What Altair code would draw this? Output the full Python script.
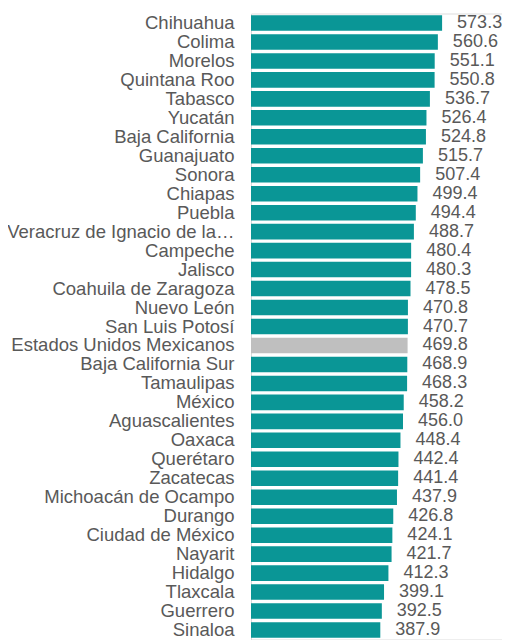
import altair as alt
import pandas as pd

estados = [
    "Chihuahua", "Colima", "Morelos", "Quintana Roo", "Tabasco", "Yucatán",
    "Baja California", "Guanajuato", "Sonora", "Chiapas", "Puebla",
    "Veracruz de Ignacio de la Llave", "Campeche", "Jalisco", "Coahuila de Zaragoza",
    "Nuevo León", "San Luis Potosí", "Estados Unidos Mexicanos", "Baja California Sur",
    "Tamaulipas", "México", "Aguascalientes", "Oaxaca", "Querétaro", "Zacatecas",
    "Michoacán de Ocampo", "Durango", "Ciudad de México", "Nayarit", "Hidalgo",
    "Tlaxcala", "Guerrero", "Sinaloa",
]
valores = [
    573.3, 560.6, 551.1, 550.8, 536.7, 526.4, 524.8, 515.7, 507.4, 499.4, 494.4,
    488.7, 480.4, 480.3, 478.5, 470.8, 470.7, 469.8, 468.9, 468.3, 458.2, 456.0,
    448.4, 442.4, 441.4, 437.9, 426.8, 424.1, 421.7, 412.3, 399.1, 392.5, 387.9,
]
nacional = "Estados Unidos Mexicanos"

df = pd.DataFrame({"estado": estados, "valor": valores})
df["etiqueta"] = df["valor"].map(lambda v: f"{v:.1f}")

FONT = "Liberation Sans"
GRAY = "#595959"

y_enc = alt.Y(
    "estado:N",
    sort=None,
    title=None,
    scale=alt.Scale(paddingInner=0.18, paddingOuter=0.09),
    axis=alt.Axis(
        ticks=False,
        tickSize=0,
        domain=True,
        domainColor="#D9D9D9",
        domainWidth=1,
        labelFont=FONT,
        labelFontSize=18.5,
        labelColor=GRAY,
        labelPadding=17,
        labelLimit=231,
        grid=False,
    ),
)
x_enc = alt.X(
    "valor:Q",
    scale=alt.Scale(domain=[0, 753], nice=False),
    axis=None,
)

bars = alt.Chart(df).mark_bar().encode(
    y=y_enc,
    x=x_enc,
    color=alt.condition(
        alt.datum.estado == nacional, alt.value("#BFBFBF"), alt.value("#0A9696")
    ),
)

labels = alt.Chart(df).mark_text(
    align="left", baseline="middle", dx=15, font=FONT, fontSize=18, color=GRAY
).encode(y=alt.Y("estado:N", sort=None), x="valor:Q", text="etiqueta:N")

chart = (
    alt.layer(bars, labels)
    .properties(
        width=251,
        height=626,
        autosize=alt.AutoSizeParams(type="none"),
        padding={"left": 243, "top": 5.5, "right": 0, "bottom": 0},
    )
    .configure_view(stroke=None)
    .configure(background="white")
)

chart.save("out.html", embed_options={"renderer": "svg", "actions": False})
